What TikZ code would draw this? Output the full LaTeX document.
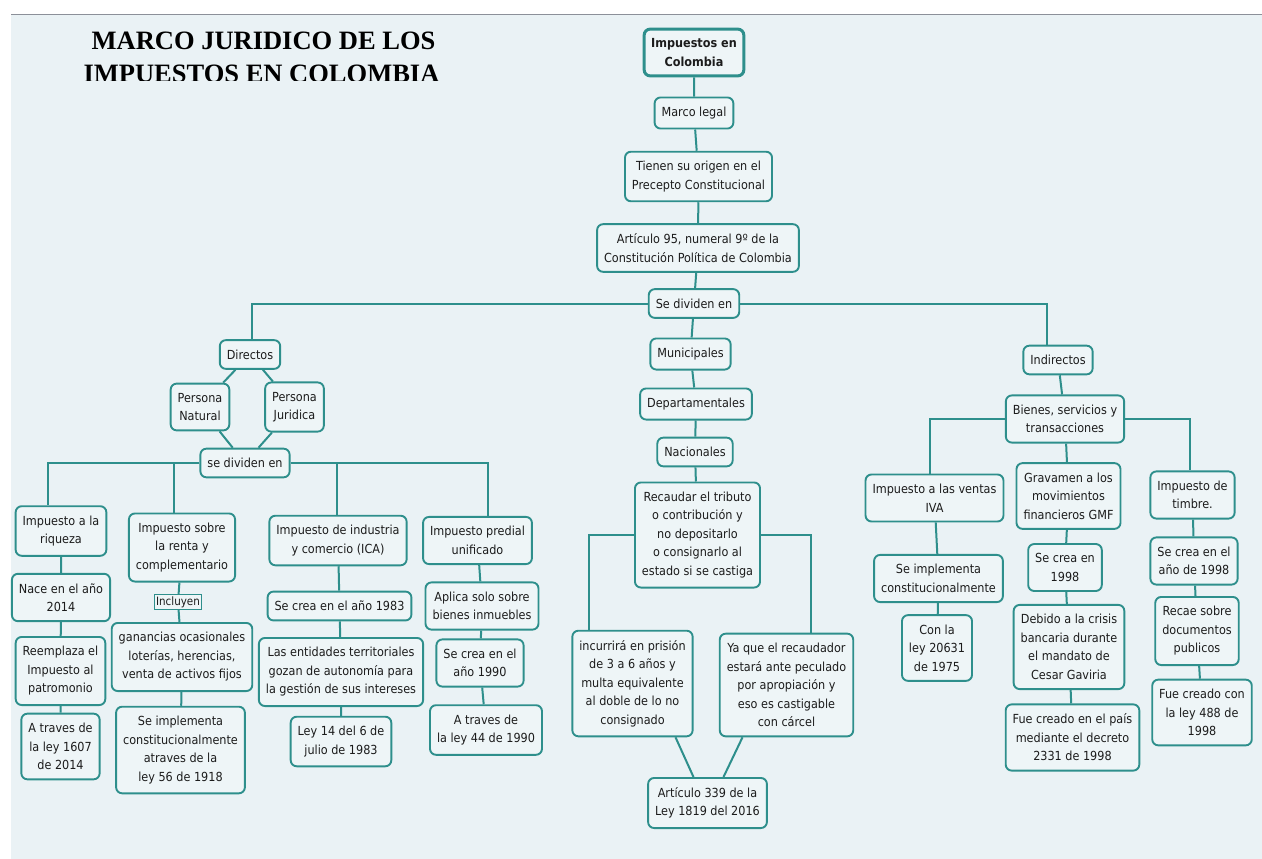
\documentclass[tikz,border=0pt]{standalone}
\usepackage{fontspec}
\setmainfont{DejaVu Sans Condensed}
\newfontfamily\titlefont{Liberation Serif}
\usepackage{tikz}

\definecolor{mapteal}{HTML}{2E8F8C}
\definecolor{mapback}{HTML}{EAF2F5}
\definecolor{boxfill}{HTML}{EEF5F7}
\definecolor{textgray}{HTML}{1C1C1C}
\definecolor{rulegray}{HTML}{8C9099}

\begin{document}
\begin{tikzpicture}[x = 1pt, y = -1pt,
	box/.style = {draw = mapteal, fill = boxfill, line width = 1.9pt, rounded corners = 6pt,
		align = center, inner xsep = 7pt, inner ysep = 9.5pt, text = textgray,
		font = \fontsize{12.5}{18.5}\selectfont},
	topbox/.style = {box, line width = 3pt, font = \fontsize{12.5}{18.5}\selectfont\bfseries},
	tagbox/.style = {box, rounded corners = 0pt, line width = 1.2pt, inner xsep = 2pt, inner ysep = 2pt,
		font = \fontsize{11.5}{14}\selectfont},
	link/.style = {draw = mapteal, line width = 2pt},
	titletext/.style = {anchor = base, inner sep = 0pt, font = \titlefont\fontsize{26.5}{30}\selectfont\bfseries}]

	% Page and background

	\useasboundingbox (0, 0) rectangle (1262, 859);
	\fill [white] (0, 0) rectangle (1262, 859);
	\fill [mapback] (11, 15) rectangle (1262, 859);
	\draw [rulegray, line width = 1.5pt] (11, 14.5) -- (1262, 14.5);

	% Title (second line cut off at the bottom)

	\node [titletext] (title1) at (263.5, 49.5) {MARCO JURIDICO DE LOS};
	\begin{scope}
		\clip (0, 15) rectangle (600, 80.5);
		\node [titletext] (title2) at (261.5, 83) {IMPUESTOS EN COLOMBIA};
	\end{scope}

	% Main trunk

	\node [topbox] (imp) at (694, 52.5) {Impuestos en\\Colombia};
	\node [box] (marco) at (694, 113) {Marco legal};
	\node [box] (origen) at (698.5, 176.5) {Tienen su origen en el\\Precepto Constitucional};
	\node [box] (art95) at (698, 248) {Artículo 95, numeral 9º de la\\Constitución Política de Colombia};
	\node [box] (divide) at (694, 303.5) {Se dividen en};

	% Direct taxes

	\node [box] (directos) at (250, 354.5) {Directos};
	\node [box] (natural) at (200, 407) {Persona\\Natural};
	\node [box] (juridica) at (294.5, 407) {Persona\\Juridica};
	\node [box] (divide2) at (245, 463) {se dividen en};

	\node [box] (riqueza) at (61, 531) {Impuesto a la\\riqueza};
	\node [box] (nace) at (61, 597.5) {Nace en el año\\2014};
	\node [box] (reemplaza) at (60.5, 671) {Reemplaza el\\Impuesto al\\patromonio};
	\node [box] (ley1607) at (60.5, 746.5) {A traves de\\la ley 1607\\de 2014};

	\node [box] (renta) at (182, 547.5) {Impuesto sobre\\la renta y\\complementario};
	\node [tagbox] (incluyen) at (178, 602) {Incluyen};
	\node [box] (ganancias) at (182, 657) {ganancias ocasionales\\loterías, herencias,\\venta de activos fijos};
	\node [box] (impl1918) at (180.5, 750) {Se implementa\\constitucionalmente\\atraves de la\\ley 56 de 1918};

	\node [box] (ica) at (338, 540.5) {Impuesto de industria\\y comercio (ICA)};
	\node [box] (crea1983) at (339.5, 606) {Se crea en el año 1983};
	\node [box] (entidades) at (341, 672) {Las entidades territoriales\\gozan de autonomía para\\la gestión de sus intereses};
	\node [box] (ley14) at (341, 741.5) {Ley 14 del 6 de\\julio de 1983};

	\node [box] (predial) at (477.5, 540.5) {Impuesto predial\\unificado};
	\node [box] (aplica) at (482, 606) {Aplica solo sobre\\bienes inmuebles};
	\node [box] (crea1990) at (480, 663) {Se crea en el\\año 1990};
	\node [box] (ley44) at (486, 730) {A traves de\\la ley 44 de 1990};

	% Territorial levels

	\node [box] (municipales) at (690.5, 354) {Municipales};
	\node [box] (departamentales) at (696, 404) {Departamentales};
	\node [box] (nacionales) at (695, 452) {Nacionales};
	\node [box] (recaudar) at (697.5, 535) {Recaudar el tributo\\o contribución y\\no depositarlo\\o consignarlo al\\estado si se castiga};
	\node [box] (incurrira) at (632.5, 683.5) {incurrirá en prisión\\de 3 a 6 años y\\multa equivalente\\al doble de lo no\\consignado};
	\node [box] (yaque) at (786.5, 685) {Ya que el recaudador\\estará ante peculado\\por apropiación y\\eso es castigable\\con cárcel};
	\node [box] (art339) at (707.5, 803) {Artículo 339 de la\\Ley 1819 del 2016};

	% Indirect taxes

	\node [box] (indirectos) at (1058, 360) {Indirectos};
	\node [box] (bienes) at (1065, 419) {Bienes, servicios y\\transacciones};

	\node [box] (iva) at (934.5, 498) {Impuesto a las ventas\\IVA};
	\node [box] (implconst) at (938.5, 578.5) {Se implementa\\constitucionalmente};
	\node [box] (ley20631) at (937, 648) {Con la\\ley 20631\\de 1975};

	\node [box] (gmf) at (1068.5, 496) {Gravamen a los\\movimientos\\financieros GMF};
	\node [box] (crea1998) at (1065, 567.5) {Se crea en\\1998};
	\node [box] (crisis) at (1069, 647) {Debido a la crisis\\bancaria durante\\el mandato de\\Cesar Gaviria};
	\node [box] (decreto) at (1072.5, 737.5) {Fue creado en el país\\mediante el decreto\\2331 de 1998};

	\node [box] (timbre) at (1192.5, 495) {Impuesto de\\timbre.};
	\node [box] (timbre1998) at (1194, 561) {Se crea en el\\año de 1998};
	\node [box] (recae) at (1197, 631) {Recae sobre\\documentos\\publicos};
	\node [box] (ley488) at (1202, 712.5) {Fue creado con\\la ley 488 de\\1998};

	% Connectors

	\draw [link] (imp) -- (marco) -- (origen) -- (art95) -- (divide);
	\draw [link] (divide.west) -| ([xshift = 2pt] directos.north);
	\draw [link] (divide.east) -| ([xshift = -11pt] indirectos.north);
	\draw [link] (divide) -- (municipales) -- (departamentales) -- (nacionales) -- (recaudar);

	\draw [link] (directos) -- (natural);
	\draw [link] (directos) -- (juridica);
	\draw [link] (natural) -- (divide2);
	\draw [link] (juridica) -- (divide2);

	\draw [link] (divide2.west) -| ([xshift = -13pt] riqueza.north);
	\draw [link] (divide2.west) -| ([xshift = -8pt] renta.north);
	\draw [link] (divide2.east) -| ([xshift = -1pt] ica.north);
	\draw [link] (divide2.east) -| ([xshift = 10pt] predial.north);

	\draw [link] (riqueza) -- (nace) -- (reemplaza) -- (ley1607);
	\draw [link] (renta) -- (incluyen) -- (ganancias) -- (impl1918);
	\draw [link] (ica) -- (crea1983) -- (entidades) -- (ley14);
	\draw [link] (predial) -- (aplica) -- (crea1990) -- (ley44);

	\draw [link] (recaudar.west) -| ([xshift = -44pt] incurrira.north);
	\draw [link] (recaudar.east) -| ([xshift = 24pt] yaque.north);
	\draw [link] ([xshift = 43pt] incurrira.south) -- ([xshift = -14pt] art339.north);
	\draw [link] ([xshift = -44pt] yaque.south) -- ([xshift = 16pt] art339.north);

	\draw [link] (indirectos) -- (bienes);
	\draw [link] (bienes.west) -| ([xshift = -5pt] iva.north);
	\draw [link] (bienes) -- (gmf);
	\draw [link] (bienes.east) -| ([xshift = -3pt] timbre.north);

	\draw [link] (iva) -- (implconst) -- (ley20631);
	\draw [link] (gmf) -- (crea1998) -- (crisis) -- (decreto);
	\draw [link] (timbre) -- (timbre1998) -- (recae) -- (ley488);

\end{tikzpicture}
\end{document}
